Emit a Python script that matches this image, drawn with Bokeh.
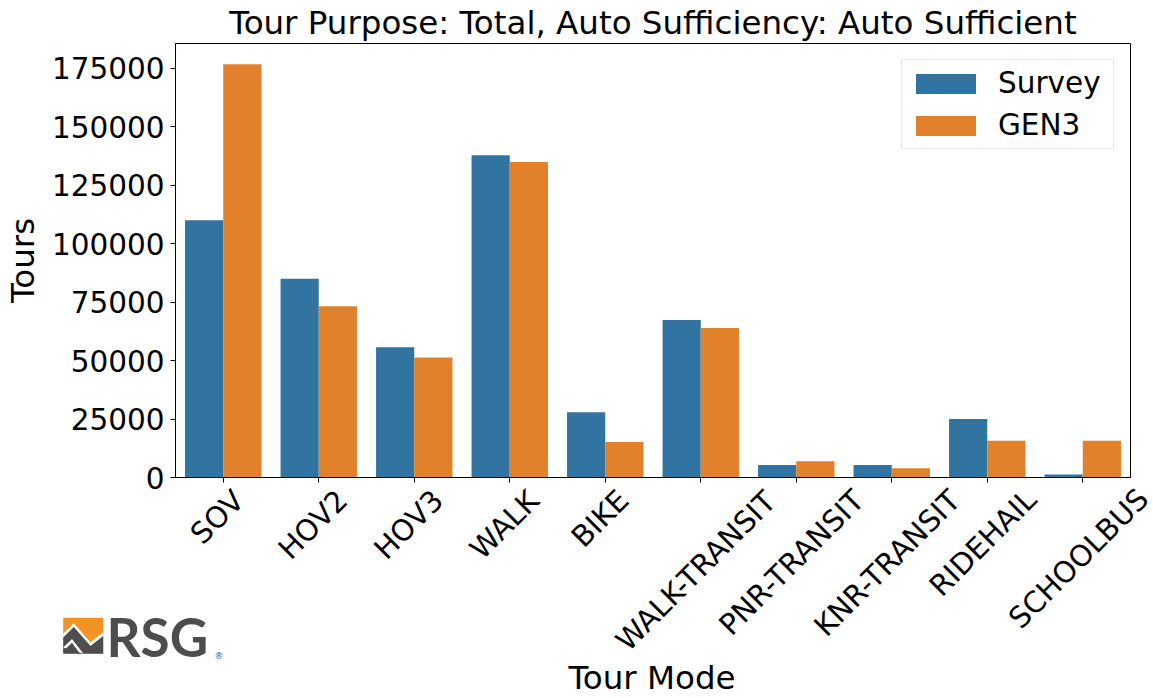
import math
from bokeh.plotting import figure
from bokeh.models import (Range1d, FixedTicker, Legend, LegendItem,
                          BasicTickFormatter, ColumnDataSource, GridBox)
from bokeh.core.properties import value
from bokeh.transform import dodge
from bokeh.embed import file_html
from bokeh.resources import INLINE

# ---------------- data ----------------
modes = ["SOV", "HOV2", "HOV3", "WALK", "BIKE", "WALK-TRANSIT",
         "PNR-TRANSIT", "KNR-TRANSIT", "RIDEHAIL", "SCHOOLBUS"]
survey = [110000, 85000, 55700, 137800, 27900, 67400, 5300, 5300, 25000, 1300]
gen3 = [176800, 73300, 51300, 134900, 15200, 64000, 7000, 4000, 15700, 15700]
series_names = ["Survey", "GEN3"]
y_ticks = [0, 25000, 50000, 75000, 100000, 125000, 150000, 175000]
title_text = "Tour Purpose: Total, Auto Sufficiency: Auto Sufficient"
x_title = "Tour Mode"
y_title = "Tours"

# ---------------- layout ----------------
W, H = 1153, 698
FL, FR, FT, FB = 173, 23, 43, 221
FW = W - FL - FR
FH = H - FT - FB
FONT = "DejaVu Sans"
TICK_FS = 29.5
XTICK_FS = 29.2
LAB_FS = 32.5
BLUE = "#3274a1"
ORANGE = "#e1812c"

xs = list(range(len(modes)))
x0, x1 = -0.5, len(modes) - 0.5
y0, y1 = 0, max(max(survey), max(gen3)) * 1.05

# DejaVu Sans advance widths (em), used to centre rotated labels under ticks
ADV = {"S": .635, "O": .787, "V": .684, "H": .752, "2": .636, "3": .636,
       "W": .989, "A": .684, "L": .557, "K": .656, "B": .686, "I": .295,
       "E": .632, "-": .361, "T": .611, "R": .695, "N": .748, "P": .603,
       "D": .770, "C": .698, "U": .732}


def text_w(s, fs):
    return sum(ADV.get(c, 0.6) for c in s) * fs * 0.965


src = ColumnDataSource(dict(x=xs, survey=survey, gen3=gen3))

p = figure(width=W, height=H, x_range=Range1d(x0, x1), y_range=Range1d(y0, y1),
           output_backend="svg", toolbar_location=None,
           min_border_left=FL, min_border_right=FR, min_border_top=FT,
           min_border_bottom=FB)
p.frame_align = False
p.background_fill_color = "white"
p.border_fill_color = "white"
p.outline_line_color = "black"
p.outline_line_width = 1
p.xgrid.visible = False
p.ygrid.visible = False

p.title.text = title_text
p.title.align = "center"
p.title.text_font = FONT
p.title.text_font_size = f"{LAB_FS}px"
p.title.text_font_style = "normal"
p.title.text_color = "black"
p.title.standoff = 3

r1 = p.vbar(x=dodge("x", -0.2, range=p.x_range), top="survey", width=0.4,
            source=src, fill_color=BLUE, line_color=None)
r2 = p.vbar(x=dodge("x", 0.2, range=p.x_range), top="gen3", width=0.4,
            source=src, fill_color=ORANGE, line_color=None)

# x axis: tick marks (rotated labels drawn in the overlay below)
p.xaxis.ticker = FixedTicker(ticks=xs, minor_ticks=[])
p.xaxis.major_label_overrides = {i: "" for i in xs}
p.xaxis.major_label_standoff = 0
p.xaxis.major_tick_out = 5
p.xaxis.major_tick_in = 0
p.xaxis.axis_line_color = "black"
p.xaxis.major_tick_line_color = "black"

p.yaxis.ticker = FixedTicker(ticks=y_ticks, minor_ticks=[])
p.yaxis.formatter = BasicTickFormatter(use_scientific=False)
p.yaxis.major_tick_out = 5
p.yaxis.major_tick_in = 0
p.yaxis.major_label_standoff = 6
p.yaxis.major_label_text_font = FONT
p.yaxis.major_label_text_font_size = f"{TICK_FS}px"
p.yaxis.major_label_text_color = "black"
p.yaxis.axis_line_color = "black"
p.yaxis.major_tick_line_color = "black"
p.yaxis.axis_label = y_title
p.yaxis.axis_label_text_font = FONT
p.yaxis.axis_label_text_font_size = f"{LAB_FS}px"
p.yaxis.axis_label_text_font_style = "normal"
p.yaxis.axis_label_text_color = "black"
p.yaxis.axis_label_standoff = 7

legend = Legend(items=[LegendItem(label=series_names[0], renderers=[r1]),
                       LegendItem(label=series_names[1], renderers=[r2])],
                location="top_right")
legend.label_text_font = FONT
legend.label_text_font_size = f"{TICK_FS}px"
legend.label_text_color = "black"
legend.glyph_width = 75
legend.glyph_height = 25
legend.label_standoff = 15
legend.label_width = 109
legend.padding = 6
legend.spacing = 8
legend.margin = 16
legend.border_line_color = "#d0d0d0"
legend.border_line_width = 1
legend.background_fill_alpha = 0.8
p.add_layout(legend)

# ---------------- transparent overlay: rotated labels, x title, logo ----------------
def qx(px):
    return x0 + (px - FL) / FW * (x1 - x0)


q = figure(width=W, height=H, x_range=Range1d(qx(0), qx(W)), y_range=Range1d(0, H),
           output_backend="svg", toolbar_location=None, x_axis_type=None,
           y_axis_type=None, min_border=0, title=None)
q.frame_align = False
q.outline_line_color = None
q.background_fill_alpha = 0
q.border_fill_alpha = 0

lab_y = [H - (FT + FH + 11 + (text_w(m, XTICK_FS) + 0.729 * XTICK_FS) / (2 * math.sqrt(2)))
         for m in modes]
q.text(x=xs, y=lab_y, text=modes, angle=math.pi / 4, x_offset=-4,
       text_align="center", text_baseline="middle", text_font=value(FONT),
       text_font_size=value(f"{XTICK_FS}px"), text_color="black")
q.text(x=[(x0 + x1) / 2], y=[H - 677.5], text=[x_title], text_align="center",
       text_baseline="middle", text_font=value(FONT),
       text_font_size=value(f"{LAB_FS}px"), text_color="black")

LOGO_ORANGE = "#f39325"
LOGO_GRAY = "#4d4d4f"
ix0, ix1, iy0, iy1 = 62.7, 102.7, 617.3, 653.3
zig = [(ix0, 633.3), (73.3, 622.7), (90.0, 641.7), (ix1, 631.7)]
shapes = [
    ([(ix0, iy0), (ix1, iy0), (ix1, iy1), (ix0, iy1)], LOGO_ORANGE),
    (zig + [(ix1, iy1), (ix0, iy1)], "white"),
    ([(a, b + 3.8) for a, b in zig] + [(ix1, iy1), (ix0, iy1)], LOGO_GRAY),
    ([(ix0, 647.0), (71.5, 638.5), (83.0, iy1)], "white"),
    ([(ix0, 650.8), (71.5, 642.3), (79.5, iy1)], LOGO_GRAY),
]
for pts, col in shapes:
    q.patch([qx(a) for a, b in pts], [H - b for a, b in pts], fill_color=col,
            line_color=None)
q.text(x=[qx(106)], y=[H - 635.5], text=["RSG"], text_font=value("Lato"),
       text_font_style="bold", text_font_size=value("53px"),
       text_color=LOGO_GRAY, text_baseline="middle", text_align="left")
q.text(x=[qx(214)], y=[H - 655], text=["®"], text_font=value(FONT),
       text_font_size=value("9px"), text_color=LOGO_GRAY,
       text_baseline="middle", text_align="left")

layout = GridBox(children=[(p, 0, 0), (q, 0, 0)])

open("out.html", "w").write(file_html(layout, INLINE))
